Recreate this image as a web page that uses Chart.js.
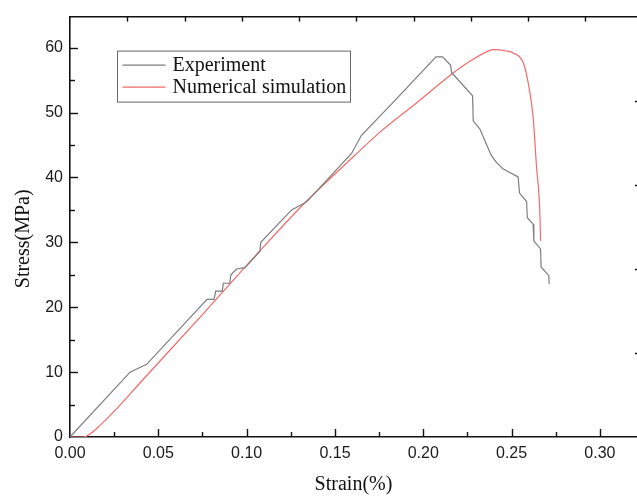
<!DOCTYPE html>
<html>
<head>
<meta charset="utf-8">
<script src="https://cdn.jsdelivr.net/npm/chart.js@4/dist/chart.umd.min.js"></script>
<style>
html,body{margin:0;padding:0;background:#fff;overflow:hidden;}
#wrap{width:637px;height:497px;position:relative;}
</style>
</head>
<body>
<div id="wrap"><canvas id="c"></canvas></div>
<script>
// ---- data ----
const expStrain = [0, 0.034, 0.0434, 0.0776, 0.0815, 0.0825, 0.0862, 0.0868, 0.0904, 0.0911, 0.0943, 0.099,
  0.1075, 0.108, 0.1255, 0.133, 0.1345, 0.1594, 0.165, 0.182, 0.2072, 0.211, 0.2155, 0.216, 0.2279, 0.2283,
  0.232, 0.2385, 0.2415, 0.2453, 0.2537, 0.2545, 0.2585, 0.2589, 0.2622, 0.2626, 0.2664, 0.2667, 0.271, 0.2713];
const expStress = [0, 10.0, 11.2, 21.2, 21.2, 22.5, 22.5, 23.7, 23.7, 25.0, 25.9, 26.1,
  28.6, 30.0, 35.0, 36.1, 36.4, 43.7, 46.5, 51.3, 58.6, 58.6, 57.3, 56.2, 52.6, 48.7,
  47.5, 43.4, 42.3, 41.3, 40.1, 37.6, 36.3, 33.8, 32.8, 30.2, 29.0, 26.2, 24.9, 23.6];

const simStrain = [0, 0.0075, 0.012, 0.017, 0.0255, 0.0415, 0.0764, 0.1085, 0.133, 0.1604, 0.1755, 0.1868,
  0.1953, 0.2155, 0.2264, 0.2377, 0.2396, 0.2472, 0.2509, 0.2566, 0.2594, 0.2622, 0.2641, 0.266, 0.2664];
const simStress = [0, 0.0, 0.6, 1.8, 4.1, 8.9, 19.3, 29.0, 36.1, 43.2, 47.0, 49.5,
  51.3, 55.8, 57.9, 59.6, 59.7, 59.5, 59.2, 57.7, 54.6, 49.3, 41.7, 34.6, 30.2];

const seriesLabels = ['Experiment', 'Numerical simulation'];
const xTickLabels = ['0.00', '0.05', '0.10', '0.15', '0.20', '0.25', '0.30'];
const yTickLabels = ['0', '10', '20', '30', '40', '50', '60'];
const xTitle = 'Strain(%)';
const yTitle = 'Stress(MPa)';

const toPts = (xs, ys) => xs.map((x, i) => ({x: x, y: ys[i]}));

const near = (v, step) => Math.abs(v / step - Math.round(v / step)) < 1e-6;

const innerTicks = {
  id: 'innerTicks',
  afterDraw(chart) {
    const ctx = chart.ctx, a = chart.chartArea;
    ctx.save();
    ctx.strokeStyle = '#111';
    ctx.lineWidth = 1.4;
    const seg = (x1, y1, x2, y2) => { ctx.beginPath(); ctx.moveTo(x1, y1); ctx.lineTo(x2, y2); ctx.stroke(); };
    const sx = chart.scales.x;
    sx.ticks.forEach(t => {
      if (t.value <= 0) return;
      const p = Math.round(sx.getPixelForValue(t.value)) + 0.5;
      seg(p, a.bottom, p, a.bottom - (near(t.value, 0.05) ? 8 : 5));
    });
    const sy = chart.scales.y;
    sy.ticks.forEach(t => {
      if (t.value <= 0) return;
      const p = Math.round(sy.getPixelForValue(t.value)) + 0.5;
      seg(a.left, p, a.left + (near(t.value, 10) ? 8 : 5), p);
    });
    const sx2 = chart.scales.x2;
    sx2.ticks.forEach(t => {
      if (t.value <= 0) return;
      const p = Math.round(sx2.getPixelForValue(t.value)) + 0.5;
      seg(p, a.top, p, a.top + 5);
    });
    const sy2 = chart.scales.y2;
    sy2.ticks.forEach(t => {
      if (t.value <= 0 || t.value >= 5) return;
      const p = Math.round(sy2.getPixelForValue(t.value)) + 0.5;
      seg(a.right - 2, p, a.right, p);
    });
    ctx.restore();
  }
};

const customLegend = {
  id: 'customLegend',
  afterDraw(chart) {
    const ctx = chart.ctx, a = chart.chartArea;
    const bx = a.left + 47.5, by = a.top + 34.5, bw = 233, bh = 51;
    ctx.save();
    ctx.strokeStyle = '#666';
    ctx.lineWidth = 1;
    ctx.strokeRect(bx, by, bw, bh);
    ctx.font = '20px "Liberation Serif", "Times New Roman", serif';
    ctx.fillStyle = '#111';
    ctx.textBaseline = 'middle';
    chart.data.datasets.forEach((ds, i) => {
      const yy = by + 14 + i * 22;
      ctx.strokeStyle = ds.borderColor;
      ctx.lineWidth = 1.2;
      ctx.beginPath(); ctx.moveTo(bx + 5, yy); ctx.lineTo(bx + 48, yy); ctx.stroke();
      ctx.fillText(ds.label, bx + 55, yy + 1);
    });
    ctx.restore();
  }
};

const yTitlePlugin = {
  id: 'yTitlePlugin',
  afterDraw(chart) {
    const ctx = chart.ctx, a = chart.chartArea;
    ctx.save();
    ctx.font = '20px "Liberation Serif", "Times New Roman", serif';
    ctx.fillStyle = '#111';
    ctx.textAlign = 'center';
    ctx.textBaseline = 'middle';
    ctx.translate(24, (a.top + a.bottom) / 2 + 12);
    ctx.rotate(-Math.PI / 2);
    ctx.fillText(yTitle, 0, 0);
    ctx.restore();
  }
};

const tickFont = {family: '"Liberation Sans", Arial, sans-serif', size: 16};

new Chart(document.getElementById('c'), {
  type: 'line',
  data: {
    datasets: [
      {label: seriesLabels[0], data: toPts(expStrain, expStress), borderColor: '#7d7d7d', borderWidth: 1.2,
       pointRadius: 0, tension: 0, fill: false},
      {label: seriesLabels[1], data: toPts(simStrain, simStress), borderColor: '#f26a6a', borderWidth: 1.2,
       pointRadius: 0, cubicInterpolationMode: 'monotone', fill: false}
    ]
  },
  options: {
    responsive: true,
    maintainAspectRatio: false,
    animation: false,
    layout: {padding: 0},
    plugins: {legend: {display: false}, tooltip: {enabled: false}},
    scales: {
      x: {
        type: 'linear', position: 'bottom', min: 0, max: 0.321,
        grid: {display: false, drawTicks: false},
        border: {display: true, color: '#111', width: 1.6},
        ticks: {
          stepSize: 0.025, includeBounds: false, padding: 7, color: '#1a1a1a', font: tickFont, maxRotation: 0, autoSkip: false,
          callback: v => { const i = Math.round(v / 0.05); return near(v, 0.05) && i < xTickLabels.length ? xTickLabels[i] : ''; }
        },
        title: {display: true, text: xTitle, color: '#111', padding: {top: 0, bottom: 0},
          font: {family: '"Liberation Serif", "Times New Roman", serif', size: 20}},
        afterFit: s => { s.height = 60; }
      },
      x2: {
        type: 'linear', position: 'top', min: 0, max: 9.9,
        grid: {display: false, drawTicks: false},
        border: {display: true, color: '#111', width: 1.6},
        ticks: {display: false, stepSize: 1, includeBounds: false},
        afterFit: s => { s.height = 12; }
      },
      y: {
        type: 'linear', position: 'left', min: 0, max: 64.8,
        grid: {display: false, drawTicks: false},
        border: {display: true, color: '#111', width: 1.6},
        ticks: {
          stepSize: 5, includeBounds: false, padding: 7, color: '#1a1a1a', font: tickFont, autoSkip: false,
          callback: v => { const i = Math.round(v / 10); return near(v, 10) && i < yTickLabels.length ? yTickLabels[i] : ''; }
        },
        afterFit: s => { s.width = 70; }
      },
      y2: {
        type: 'linear', position: 'right', min: 0, max: 5,
        grid: {display: false, drawTicks: false},
        border: {display: false},
        ticks: {display: false, stepSize: 1, includeBounds: false},
        afterFit: s => { s.width = 0; }
      }
    }
  },
  plugins: [innerTicks, customLegend, yTitlePlugin]
});
</script>
</body>
</html>
